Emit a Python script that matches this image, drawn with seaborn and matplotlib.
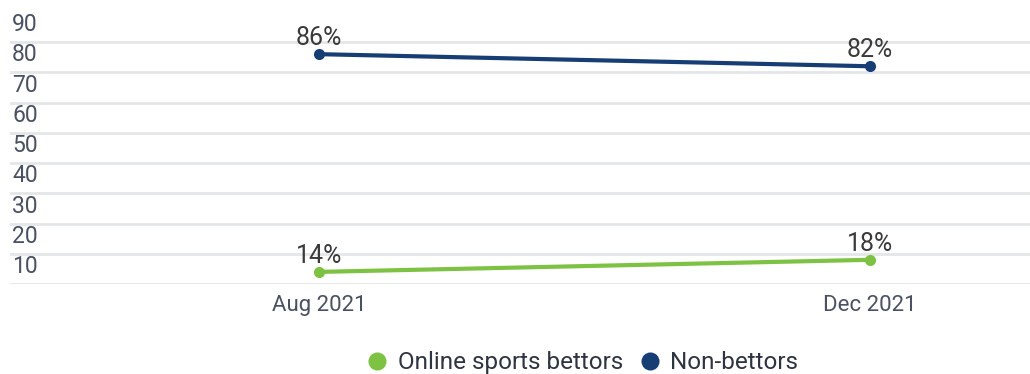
import matplotlib
matplotlib.use("Agg")
import matplotlib.pyplot as plt
import seaborn as sns
import pandas as pd
from matplotlib.lines import Line2D
from matplotlib.transforms import offset_copy

# Survey periods and share of respondents (%)
periods = ["Aug 2021", "Dec 2021"]
online_bettors = [14, 18]
non_bettors = [86, 82]
series_names = ["Online sports bettors", "Non-bettors"]
y_ticks = [10, 20, 30, 40, 50, 60, 70, 80, 90]

colors = {"Online sports bettors": "#7DC242", "Non-bettors": "#173D75"}
label_color = "#4A5162"
value_color = "#3A3A3A"

df = pd.DataFrame({
    "period": periods * 2,
    "share": online_bettors + non_bettors,
    "series": [series_names[0]] * len(periods) + [series_names[1]] * len(periods),
})

sns.set_theme(style="white")
plt.rcParams["font.family"] = ["Roboto", "DejaVu Sans"]

fig = plt.figure(figsize=(10.3, 3.74), dpi=100)
ax = fig.add_axes([10 / 1030, 90 / 374, 1020 / 1030, 264 / 374])

sns.lineplot(data=df, x="period", y="share", hue="series", palette=colors,
             marker="o", markersize=8, markeredgewidth=0, linewidth=3,
             sort=False, legend=False, ax=ax)

ax.set_xlim(-0.561, 1.290)
ax.set_ylim(10, 97.3)
ax.set_yticks(y_ticks)
ax.set_yticklabels([])
ax.grid(axis="y", color="#E5E6E8", linewidth=2)
ax.grid(axis="x", visible=False)
for s in ax.spines.values():
    s.set_visible(False)
ax.set_xlabel("")
ax.set_ylabel("")
ax.tick_params(axis="x", length=0, pad=8, labelsize=16, labelcolor=label_color)
ax.tick_params(axis="y", length=0)

# y-axis labels sit just above their gridlines, flush left
ytrans = offset_copy(ax.get_yaxis_transform(), fig=fig, x=0, y=6, units="dots")
for v in y_ticks:
    ax.text(0.002, v, str(v), transform=ytrans, ha="left", va="bottom",
            fontsize=16.5, color=label_color)

# value labels above each point
for name, vals in zip(series_names, [online_bettors, non_bettors]):
    for i, v in enumerate(vals):
        ax.annotate(f"{v}%", xy=(i, v), xytext=(0, 3), textcoords="offset points",
                    ha="center", va="bottom", fontsize=18, color=value_color)

handles = [Line2D([], [], linestyle="none", marker="o", markersize=13,
                  markerfacecolor=colors[n], markeredgewidth=0) for n in series_names]
fig.legend(handles, series_names, loc="center", bbox_to_anchor=(0.566, 0.030),
           ncol=2, frameon=False, fontsize=17.5, handlelength=0.8,
           handletextpad=0.45, columnspacing=0.7, labelcolor="#2E3440")

fig.savefig("out.png", dpi=100)
